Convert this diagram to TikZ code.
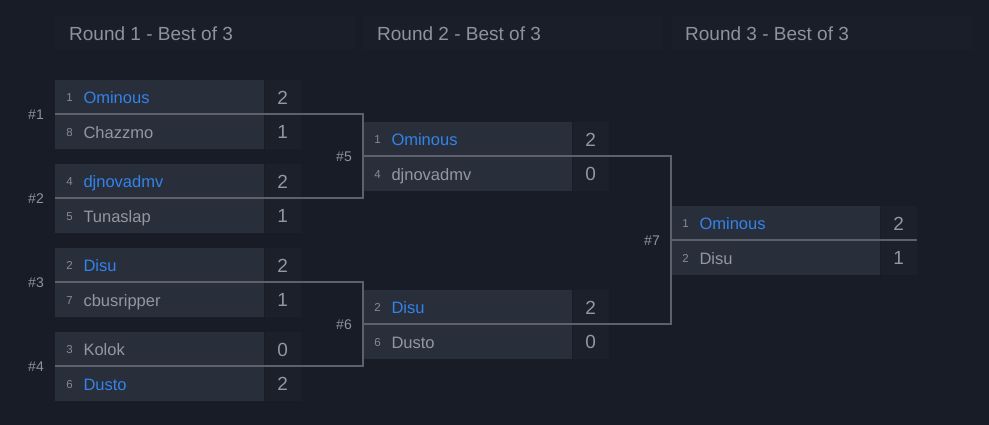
\documentclass[tikz,border=0pt]{standalone}
\usepackage{fontspec}
\setmainfont{Liberation Sans}
\definecolor{bgc}{HTML}{181C26}
\definecolor{hdrc}{HTML}{1A1E28}
\definecolor{rowc}{HTML}{292E3B}
\definecolor{scorec}{HTML}{1C202B}
\definecolor{linec}{HTML}{5C616C}
\definecolor{namec}{HTML}{93979F}
\definecolor{titlec}{HTML}{8E939B}
\definecolor{winc}{HTML}{3383EA}
\definecolor{seedc}{HTML}{868A92}
\tikzset{
  rowbox/.style={draw=none,fill=rowc,rectangle,minimum width=209pt,minimum height=34.5pt,inner sep=0pt,anchor=north west},
  scorebox/.style={draw=none,fill=scorec,rectangle,minimum width=36pt,minimum height=34.5pt,inner sep=0pt,anchor=west},
  hdrbox/.style={draw=none,fill=hdrc,rectangle,minimum width=300pt,minimum height=34pt,inner sep=0pt,anchor=north west},
  hdrtxt/.style={inner sep=0pt,anchor=base west,text=titlec,font=\fontsize{19}{19}\selectfont},
  seedtxt/.style={inner sep=0pt,anchor=base,text=seedc,font=\fontsize{11.5}{11.5}\selectfont},
  nametxt/.style={inner sep=0pt,anchor=base west,font=\fontsize{16.5}{16.5}\selectfont},
  scoretxt/.style={inner sep=0pt,anchor=base,text=namec,font=\fontsize{19}{19}\selectfont},
  matchlbl/.style={inner sep=0pt,anchor=base east,text=titlec,font=\fontsize{14}{14}\selectfont},
  conn/.style={draw=linec,line width=1.3pt}
}
% #1 node name, #2 x, #3 y top, #4 seed, #5 name, #6 name colour, #7 score
\newcommand\bplayer[7]{%
  \node[rowbox] (#1) at (#2,#3) {};
  \node[scorebox] (#1sc) at (#1.east) {};
  \node[seedtxt] (#1sd) at ([xshift=14.5pt,yshift=-4.6pt]#1.west) {#4};
  \node[nametxt,text=#6] (#1nm) at ([xshift=28.3pt,yshift=-6.6pt]#1.west) {#5};
  \node[scoretxt] (#1st) at ([xshift=0pt,yshift=-7.3pt]#1sc.center) {#7};
}
\begin{document}
\begin{tikzpicture}[x=1pt,y=-1pt]
\fill[bgc] (0,0) rectangle (989,425);
\useasboundingbox (0,0) rectangle (989,425);
% headers
\node[hdrbox] (h1) at (55,16) {};
\node[hdrbox] (h2) at (363,16) {};
\node[hdrbox] (h3) at (672,16) {};
\node[hdrtxt] (h1t) at ([xshift=14pt,yshift=-7pt]h1.west) {Round 1 - Best of 3};
\node[hdrtxt] (h2t) at ([xshift=14pt,yshift=-7pt]h2.west) {Round 2 - Best of 3};
\node[hdrtxt] (h3t) at ([xshift=13pt,yshift=-7pt]h3.west) {Round 3 - Best of 3};
% round 1
\bplayer{a1}{55}{79.5}{1}{Ominous}{winc}{2}
\bplayer{b1}{55}{114}{8}{Chazzmo}{namec}{1}
\bplayer{a2}{55}{163.5}{4}{djnovadmv}{winc}{2}
\bplayer{b2}{55}{198}{5}{Tunaslap}{namec}{1}
\bplayer{a3}{55}{247.5}{2}{Disu}{winc}{2}
\bplayer{b3}{55}{282}{7}{cbusripper}{namec}{1}
\bplayer{a4}{55}{331.5}{3}{Kolok}{namec}{0}
\bplayer{b4}{55}{366}{6}{Dusto}{winc}{2}
% round 2
\bplayer{a5}{363}{121.5}{1}{Ominous}{winc}{2}
\bplayer{b5}{363}{156}{4}{djnovadmv}{namec}{0}
\bplayer{a6}{363}{289.5}{2}{Disu}{winc}{2}
\bplayer{b6}{363}{324}{6}{Dusto}{namec}{0}
% round 3
\bplayer{a7}{671}{205.5}{1}{Ominous}{winc}{2}
\bplayer{b7}{671}{240}{2}{Disu}{namec}{1}
% match labels
\node[matchlbl] (l1) at ([xshift=-11pt,yshift=-5.5pt]b1.north west) {\#1};
\node[matchlbl] (l2) at ([xshift=-11pt,yshift=-5.5pt]b2.north west) {\#2};
\node[matchlbl] (l3) at ([xshift=-11pt,yshift=-5.5pt]b3.north west) {\#3};
\node[matchlbl] (l4) at ([xshift=-11pt,yshift=-5.5pt]b4.north west) {\#4};
\node[matchlbl] (l5) at ([xshift=-11pt,yshift=-5.5pt]b5.north west) {\#5};
\node[matchlbl] (l6) at ([xshift=-11pt,yshift=-5.5pt]b6.north west) {\#6};
\node[matchlbl] (l7) at ([xshift=-11pt,yshift=-5.5pt]b7.north west) {\#7};
% connectors
\coordinate (e7) at (b7sc.north east);
\draw[conn] (b1.north west) -- (b1.north west -| b5.north west) -- (b2.north west -| b5.north west) -- (b2.north west);
\draw[conn] (b3.north west) -- (b3.north west -| b6.north west) -- (b4.north west -| b6.north west) -- (b4.north west);
\draw[conn] (b5.north west) -- (b5.north west -| b7.north west) -- (b6.north west -| b7.north west) -- (b6.north west);
\draw[conn] (b7.north west) -- (e7);
\end{tikzpicture}
\end{document}
